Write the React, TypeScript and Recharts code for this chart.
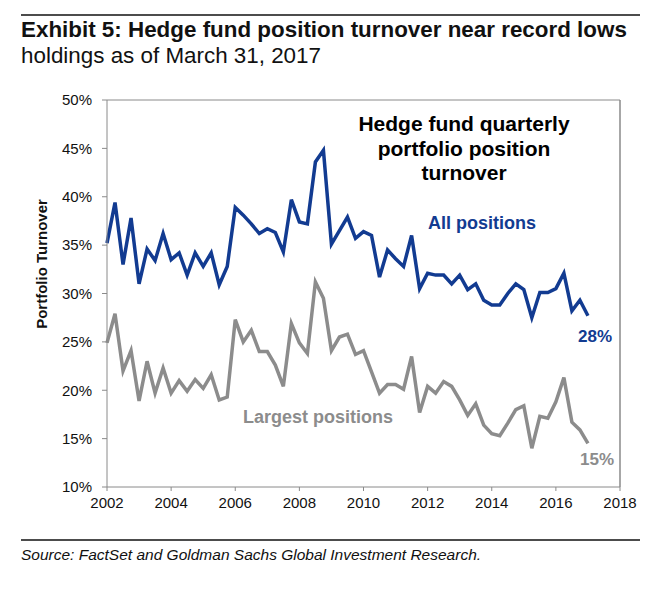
import React from "react";
import { LineChart, Line, XAxis, YAxis, ReferenceLine } from "recharts";

// quarterly observations, Q1 2002 .. Q1 2017
const START_YEAR = 2002;
const allPositions = [
  35.2, 39.4, 33.0, 37.8, 31.0, 34.6, 33.4, 36.2, 33.5, 34.2,
  31.9, 34.2, 32.8, 34.2, 30.9, 32.8, 38.9, 38.1, 37.2, 36.2,
  36.7, 36.3, 34.3, 39.7, 37.4, 37.2, 43.6, 44.8, 35.1, 36.5,
  37.9, 35.7, 36.4, 36.0, 31.7, 34.5, 33.6, 32.8, 36.0, 30.5,
  32.1, 31.9, 31.9, 31.0, 31.9, 30.4, 31.0, 29.3, 28.8, 28.8,
  30.0, 31.0, 30.4, 27.5, 30.1, 30.1, 30.5, 32.1, 28.2, 29.3,
  27.7,
];
const largestPositions = [
  24.9, 27.9, 22.0, 24.1, 18.9, 23.0, 19.7, 22.3, 19.7, 21.0,
  19.9, 21.1, 20.2, 21.6, 19.0, 19.3, 27.3, 25.0, 26.2, 24.0,
  24.0, 22.6, 20.4, 26.9, 24.9, 23.8, 31.2, 29.5, 24.1, 25.5,
  25.8, 23.7, 24.1, 21.9, 19.7, 20.6, 20.6, 20.1, 23.5, 17.7,
  20.4, 19.7, 20.9, 20.4, 19.0, 17.4, 18.6, 16.4, 15.5, 15.3,
  16.6, 18.0, 18.4, 14.0, 17.3, 17.1, 18.8, 21.3, 16.7, 15.9,
  14.5,
];
const xTicks = [2002, 2004, 2006, 2008, 2010, 2012, 2014, 2016, 2018];
const yTicks = [10, 15, 20, 25, 30, 35, 40, 45, 50];

const data = allPositions.map((v, i) => ({
  t: START_YEAR + i / 4,
  all: v,
  largest: largestPositions[i],
}));

const BLUE = "#123b91";
const GRAY = "#8c8c8c";
const AXIS = "#8a8a8a";
const FONT = "Arial, 'Liberation Sans', sans-serif";

export default function App() {
  return (
    <div style={{ position: "relative", width: 660, height: 591, margin: -8, fontFamily: FONT, background: "#fff" }}>
      <LineChart
        width={660}
        height={591}
        data={data}
        margin={{ top: 100, right: 40, bottom: 74, left: 47 }}
      >
        <XAxis
          dataKey="t"
          type="number"
          domain={[2002, 2018]}
          ticks={xTicks}
          stroke={AXIS}
          tickSize={4}
          tickMargin={6}
          height={30}
          tick={{ fill: "#111", fontSize: 15, fontFamily: FONT }}
        />
        <YAxis
          domain={[10, 50]}
          ticks={yTicks}
          tickFormatter={(v) => `${v}%`}
          stroke={AXIS}
          tickSize={5}
          tickMargin={10}
          width={60}
          tick={{ fill: "#111", fontSize: 15, fontFamily: FONT }}
        />
        <ReferenceLine y={50} stroke={AXIS} strokeWidth={1} />
        <ReferenceLine x={2018} stroke={AXIS} strokeWidth={1.5} />
        <Line
          dataKey="all"
          stroke={BLUE}
          strokeWidth={3.5}
          dot={false}
          isAnimationActive={false}
        />
        <Line
          dataKey="largest"
          stroke={GRAY}
          strokeWidth={3.5}
          dot={false}
          isAnimationActive={false}
        />
      </LineChart>
      <svg
        width={660}
        height={591}
        style={{ position: "absolute", left: 0, top: 0, pointerEvents: "none" }}
        fontFamily={FONT}
      >
        <line x1={21} x2={640} y1={15} y2={15} stroke="#111" strokeWidth={1.5} />
        <text x={21} y={37} fontSize={22.4} fontWeight="bold" fill="#111">
          Exhibit 5: Hedge fund position turnover near record lows
        </text>
        <text x={21} y={63} fontSize={22.4} fill="#111">
          holdings as of March 31, 2017
        </text>
        <text
          transform="translate(47,264) rotate(-90)"
          textAnchor="middle"
          fontSize={15}
          fontWeight="bold"
          fill="#111"
        >
          Portfolio Turnover
        </text>
        <g textAnchor="middle" fontSize={21} fontWeight="bold" fill="#000">
          <text x={464} y={131}>Hedge fund quarterly</text>
          <text x={464} y={156}>portfolio position</text>
          <text x={464} y={180}>turnover</text>
        </g>
        <text x={482} y={229} textAnchor="middle" fontSize={18} fontWeight="bold" fill={BLUE}>
          All positions
        </text>
        <text x={595} y={342} textAnchor="middle" fontSize={17} fontWeight="bold" fill={BLUE}>
          28%
        </text>
        <text x={318} y={423} textAnchor="middle" fontSize={18} fontWeight="bold" fill={GRAY}>
          Largest positions
        </text>
        <text x={597} y={465} textAnchor="middle" fontSize={17} fontWeight="bold" fill={GRAY}>
          15%
        </text>
        <line x1={21} x2={640} y1={540} y2={540} stroke="#111" strokeWidth={1.5} />
        <text x={21} y={560} fontSize={15.5} fontStyle="italic" fill="#111">
          Source: FactSet and Goldman Sachs Global Investment Research.
        </text>
      </svg>
    </div>
  );
}
